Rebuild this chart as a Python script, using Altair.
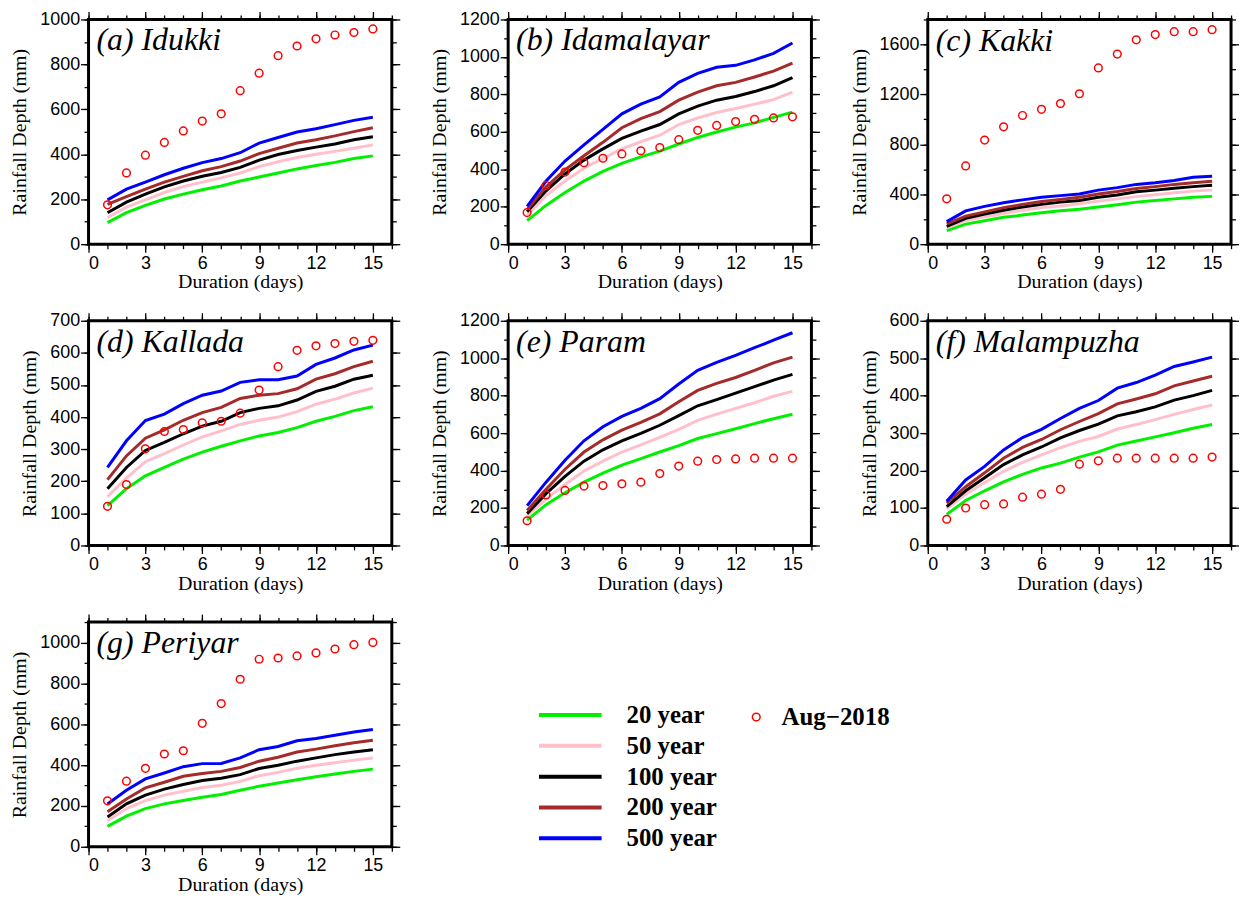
import altair as alt
import pandas as pd

days = list(range(1, 16))
periods = ["20 year", "50 year", "100 year", "200 year", "500 year"]
period_colors = ["#00f000", "#ffc0cb", "#000000", "#a52a2a", "#0000ff"]
obs_label = "Aug\u22122018"

# (a) Idukki
idukki_20 = [96, 140, 173, 201, 223, 242, 259, 281, 299, 317, 335, 350, 364, 381, 393]
idukki_50 = [119, 165, 197, 230, 256, 276, 295, 317, 345, 367, 386, 400, 413, 427, 442]
idukki_100 = [140, 187, 223, 255, 281, 302, 319, 342, 374, 399, 417, 432, 446, 465, 478]
idukki_200 = [177, 212, 245, 276, 302, 327, 345, 370, 403, 427, 450, 465, 482, 501, 518]
idukki_500 = [197, 245, 276, 309, 338, 363, 381, 407, 450, 475, 499, 514, 532, 551, 565]
idukki_obs = [175, 317, 396, 453, 504, 548, 580, 683, 761, 839, 882, 914, 931, 942, 958]

# (b) Idamalayar
idamalayar_20 = [126, 207, 276, 337, 389, 432, 466, 497, 535, 570, 599, 625, 648, 677, 705]
idamalayar_50 = [155, 259, 337, 406, 458, 509, 547, 582, 639, 674, 703, 725, 748, 772, 812]
idamalayar_100 = [173, 285, 375, 449, 509, 565, 604, 639, 696, 737, 769, 789, 815, 846, 889]
idamalayar_200 = [185, 306, 397, 472, 544, 622, 670, 708, 769, 812, 846, 864, 893, 924, 967]
idamalayar_500 = [202, 337, 444, 530, 613, 696, 748, 786, 864, 912, 945, 955, 984, 1019, 1074]
idamalayar_obs = [169, 314, 385, 435, 459, 482, 499, 516, 558, 608, 634, 655, 667, 674, 680]

# (c) Kakki
kakki_20 = [109, 161, 187, 215, 233, 251, 267, 280, 298, 316, 337, 350, 363, 376, 383]
kakki_50 = [130, 189, 220, 246, 272, 293, 306, 324, 345, 363, 381, 396, 412, 425, 435]
kakki_100 = [142, 207, 241, 272, 298, 319, 337, 350, 376, 394, 420, 433, 448, 461, 472]
kakki_200 = [163, 225, 259, 293, 319, 342, 358, 376, 402, 422, 446, 461, 479, 492, 505]
kakki_500 = [181, 267, 303, 332, 355, 376, 389, 402, 433, 453, 479, 492, 510, 536, 544]
kakki_obs = [363, 627, 834, 940, 1031, 1080, 1127, 1205, 1412, 1523, 1637, 1679, 1702, 1702, 1718]

# (d) Kallada
kallada_20 = [124, 177, 217, 243, 269, 291, 309, 326, 341, 352, 367, 387, 402, 420, 432]
kallada_50 = [152, 210, 261, 286, 313, 338, 357, 377, 390, 400, 417, 440, 456, 475, 490]
kallada_100 = [177, 243, 296, 321, 348, 372, 387, 414, 427, 435, 453, 480, 496, 518, 530]
kallada_200 = [205, 279, 334, 360, 390, 414, 430, 458, 468, 473, 488, 518, 535, 557, 574]
kallada_500 = [243, 326, 389, 409, 442, 468, 481, 508, 516, 516, 528, 564, 584, 609, 624]
kallada_obs = [122, 190, 301, 355, 361, 382, 387, 412, 484, 557, 608, 622, 629, 636, 639]

# (e) Param
param_20 = [135, 218, 282, 338, 386, 429, 464, 499, 533, 571, 597, 623, 651, 677, 701]
param_50 = [156, 248, 326, 398, 450, 499, 537, 577, 620, 668, 701, 732, 762, 797, 823]
param_100 = [170, 277, 369, 450, 511, 559, 599, 642, 693, 746, 779, 814, 848, 883, 914]
param_200 = [187, 300, 407, 499, 564, 616, 658, 703, 767, 828, 866, 897, 935, 975, 1006]
param_500 = [213, 338, 455, 559, 634, 689, 732, 784, 862, 935, 978, 1015, 1056, 1096, 1136]
param_obs = [132, 270, 294, 317, 320, 329, 338, 384, 424, 450, 459, 462, 466, 466, 466]

# (f) Malampuzha
malampuzha_20 = [83, 120, 146, 170, 190, 207, 220, 236, 250, 268, 279, 290, 301, 313, 323]
malampuzha_50 = [98, 137, 168, 198, 222, 242, 261, 278, 291, 311, 323, 336, 350, 363, 375]
malampuzha_100 = [104, 146, 181, 216, 242, 263, 287, 307, 324, 346, 357, 370, 388, 400, 414]
malampuzha_200 = [113, 157, 194, 233, 262, 283, 309, 331, 352, 378, 391, 405, 426, 439, 452]
malampuzha_500 = [118, 175, 211, 255, 288, 310, 339, 366, 387, 420, 435, 455, 478, 490, 503]
malampuzha_obs = [70, 100, 109, 111, 129, 137, 150, 217, 226, 233, 233, 233, 233, 233, 236]

# (g) Periyar
periyar_20 = [100, 150, 187, 210, 226, 242, 256, 277, 296, 312, 328, 343, 356, 369, 380]
periyar_50 = [127, 187, 226, 253, 272, 290, 301, 320, 348, 364, 384, 399, 411, 424, 435]
periyar_100 = [146, 210, 253, 282, 305, 324, 335, 353, 383, 399, 419, 435, 451, 464, 475]
periyar_200 = [171, 234, 288, 316, 345, 359, 369, 388, 419, 438, 464, 478, 494, 509, 521]
periyar_500 = [209, 277, 332, 361, 392, 407, 408, 435, 475, 491, 519, 530, 546, 562, 574]
periyar_obs = [225, 321, 384, 454, 470, 604, 701, 820, 918, 924, 934, 949, 968, 989, 1000]

panel_titles = ["(a) Idukki", "(b) Idamalayar", "(c) Kakki", "(d) Kallada",
                "(e) Param", "(f) Malampuzha", "(g) Periyar"]
panel_series = [
    [idukki_20, idukki_50, idukki_100, idukki_200, idukki_500, idukki_obs],
    [idamalayar_20, idamalayar_50, idamalayar_100, idamalayar_200, idamalayar_500, idamalayar_obs],
    [kakki_20, kakki_50, kakki_100, kakki_200, kakki_500, kakki_obs],
    [kallada_20, kallada_50, kallada_100, kallada_200, kallada_500, kallada_obs],
    [param_20, param_50, param_100, param_200, param_500, param_obs],
    [malampuzha_20, malampuzha_50, malampuzha_100, malampuzha_200, malampuzha_500, malampuzha_obs],
    [periyar_20, periyar_50, periyar_100, periyar_200, periyar_500, periyar_obs],
]
# y axis: max, major step, minor step
panel_yaxis = [(1000, 200, 100), (1200, 200, 100), (1800, 400, 200), (700, 100, 100),
               (1200, 200, 100), (600, 100, 100), (1100, 200, 100)]

x_major = [0, 3, 6, 9, 12, 15]
x_minor = list(range(0, 17))

W, H = 305, 226
MAJ, MIN = 8, 4.5

base_axis = dict(grid=False, domain=False, tickColor="black", tickWidth=1.3,
                 labelFont="Liberation Sans", labelFontSize=18, labelColor="black",
                 titleFont="Liberation Serif", titleFontSize=20, titleFontWeight="normal",
                 titleColor="black", format="d")


def make_panel(idx):
    series = panel_series[idx]
    ymax, ymaj, ymin = panel_yaxis[idx]
    rows = []
    for p, vals in zip(periods, series[:5]):
        for d, v in zip(days, vals):
            rows.append({"day": d, "depth": v, "period": p})
    lines_df = pd.DataFrame(rows)
    obs_df = pd.DataFrame({"day": days, "depth": series[5], "series": obs_label})

    xs = alt.Scale(domain=[0, 16], nice=False, zero=False)
    ys = alt.Scale(domain=[0, ymax], nice=False)
    y_major = list(range(0, ymax + 1, ymaj))
    y_minor = list(range(0, ymax + 1, ymin))
    last = idx == 6

    if last:
        color_legend = alt.Legend(
            orient="none", legendX=472, legendY=81, title=None, padding=0,
            symbolType="M-3,0H3", symbolSize=441, symbolStrokeWidth=4,
            labelFont="Liberation Serif", labelFontWeight="bold", labelFontSize=25,
            labelColor="black", labelOffset=44, rowPadding=5)
        shape_legend = alt.Legend(
            orient="none", legendX=659, legendY=83, title=None, padding=0,
            symbolSize=60, symbolStrokeWidth=1.5, symbolStrokeColor="red",
            symbolFillColor="transparent",
            labelFont="Liberation Serif", labelFontWeight="bold", labelFontSize=25,
            labelColor="black", labelOffset=13)
    else:
        color_legend = None
        shape_legend = None

    lines = alt.Chart(lines_df).mark_line(strokeWidth=3).encode(
        x=alt.X("day:Q", scale=xs, axis=alt.Axis(
            orient="bottom", values=x_major, tickSize=MAJ, labelPadding=2,
            title="Duration (days)", titlePadding=0, **base_axis)),
        y=alt.Y("depth:Q", scale=ys, axis=alt.Axis(
            orient="left", values=y_major, tickSize=MAJ, labelPadding=1,
            title="Rainfall Depth (mm)", titlePadding=10, **base_axis)),
        color=alt.Color("period:N", sort=periods,
                        scale=alt.Scale(domain=periods, range=period_colors),
                        legend=color_legend),
    )
    pts = alt.Chart(obs_df).mark_point(filled=False, color="red", size=60,
                                       strokeWidth=1.5, opacity=1).encode(
        x=alt.X("day:Q", scale=xs, axis=alt.Axis(
            orient="bottom", values=x_minor, tickSize=MIN, labels=False, title=None,
            **base_axis)),
        y=alt.Y("depth:Q", scale=ys, axis=alt.Axis(
            orient="left", values=y_minor, tickSize=MIN, labels=False, title=None,
            **base_axis)),
        shape=alt.Shape("series:N", scale=alt.Scale(domain=[obs_label], range=["circle"]),
                        legend=shape_legend),
    )
    top_major = alt.Chart(obs_df).mark_point(opacity=0).encode(
        x=alt.X("day:Q", scale=xs, axis=alt.Axis(
            orient="top", values=x_major, tickSize=MAJ, labels=False, title=None,
            **base_axis)),
        y=alt.Y("depth:Q", scale=ys, axis=alt.Axis(
            orient="right", values=y_major, tickSize=MAJ, labels=False, title=None,
            **base_axis)),
    )
    top_minor = alt.Chart(obs_df).mark_point(opacity=0).encode(
        x=alt.X("day:Q", scale=xs, axis=alt.Axis(
            orient="top", values=x_minor, tickSize=MIN, labels=False, title=None,
            **base_axis)),
        y=alt.Y("depth:Q", scale=ys, axis=alt.Axis(
            orient="right", values=y_minor, tickSize=MIN, labels=False, title=None,
            **base_axis)),
    )
    title = alt.TitleParams(
        text=panel_titles[idx], anchor="start", frame="group", orient="top",
        dx=8, dy=40, offset=-32, baseline="alphabetic", font="Liberation Serif",
        fontSize=32, fontStyle="italic", fontWeight="normal", color="black")
    return alt.layer(top_major, top_minor, lines, pts).resolve_axis(
        x="independent", y="independent").properties(width=W, height=H, title=title)


panels = [make_panel(i) for i in range(7)]

chart = alt.concat(*panels, columns=3, spacing={"row": 77, "column": 117},
                   bounds="flush").resolve_scale(
    color="independent", shape="independent").resolve_legend(
    color="independent", shape="independent").configure_view(
    stroke="black", strokeWidth=3).properties(
    padding={"left": 0, "top": -2, "right": -3, "bottom": 0}, background="white")

chart.save("out.html", embed_options={"renderer": "svg", "actions": False})
